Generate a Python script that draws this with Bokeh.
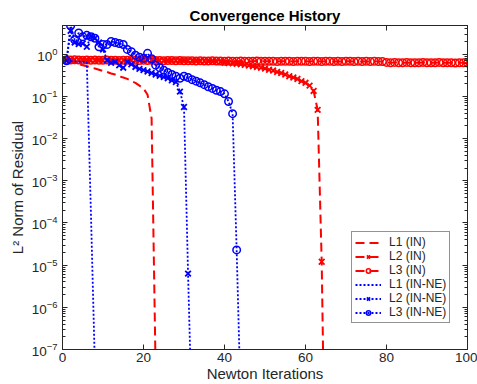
from bokeh.plotting import figure
from bokeh.models import (LinearAxis, LogAxis, FixedTicker, Range1d, Legend, LegendItem)
from bokeh.embed import file_html
from bokeh.resources import INLINE

# ---------------- data ----------------
it_L1_IN = list(range(1, 24))
res_L1_IN = [0.69, 0.65, 0.62, 0.58, 0.55, 0.52, 0.49, 0.46, 0.43, 0.40,
             0.38, 0.35, 0.33, 0.30, 0.28, 0.26, 0.23, 0.21, 0.18, 0.155,
             0.11, 0.03, 3e-8]

it_L2_IN = list(range(1, 66))
res_L2_IN = [0.74, 0.73, 0.74, 0.73, 0.73, 0.72, 0.73, 0.72, 0.73, 0.72,
             0.72, 0.73, 0.72, 0.72, 0.72, 0.73, 0.72, 0.72, 0.72, 0.72,
             0.72, 0.72, 0.72, 0.71, 0.72, 0.72, 0.71, 0.72, 0.72, 0.72,
             0.72, 0.71, 0.70, 0.69, 0.69, 0.68, 0.67, 0.66, 0.65, 0.63,
             0.62, 0.61, 0.59, 0.58, 0.56, 0.54, 0.52, 0.50, 0.48, 0.46,
             0.43, 0.41, 0.38, 0.36, 0.33, 0.30, 0.28, 0.26, 0.23, 0.21,
             0.18, 0.135, 0.048, 1.2e-5, 6e-12]

it_L3_IN = list(range(1, 101))
res_L3_IN = [0.74, 0.73, 0.74, 0.73, 0.72, 0.73, 0.72, 0.73, 0.72, 0.72,
             0.73, 0.72, 0.72, 0.71, 0.72, 0.72, 0.71, 0.72, 0.71, 0.72,
             0.71, 0.72, 0.71, 0.71, 0.70, 0.71, 0.71, 0.70, 0.71, 0.70,
             0.70, 0.70, 0.69, 0.70, 0.69, 0.69, 0.70, 0.69, 0.69, 0.68,
             0.69, 0.68, 0.68, 0.69, 0.68, 0.68, 0.68, 0.69, 0.68, 0.68,
             0.68, 0.68, 0.67, 0.68, 0.68, 0.68, 0.67, 0.68, 0.68, 0.68,
             0.67, 0.68, 0.68, 0.67, 0.68, 0.68, 0.67, 0.68, 0.67, 0.68,
             0.68, 0.67, 0.68, 0.67, 0.68, 0.67, 0.68, 0.67, 0.67, 0.64,
             0.63, 0.64, 0.63, 0.63, 0.64, 0.63, 0.63, 0.63, 0.64, 0.63,
             0.63, 0.63, 0.64, 0.63, 0.63, 0.63, 0.62, 0.63, 0.63, 0.62]

it_L1_NE = list(range(1, 9))
res_L1_NE = [0.70, 0.69, 0.68, 0.67, 0.66, 0.65, 2e-4, 4e-8]

it_L2_NE = list(range(1, 33))
res_L2_NE = [0.70, 3.6, 1.9, 1.74, 1.8, 1.5, 2.7, 2.4, 1.9, 1.3,
             0.72, 0.63, 0.66, 0.55, 0.48, 0.66, 0.58, 0.50, 0.45, 0.42,
             0.39, 0.36, 0.33, 0.31, 0.29, 0.27, 0.24, 0.22, 0.13, 0.056,
             6.3e-6, 1.6e-9]

it_L3_NE = list(range(1, 45))
res_L3_NE = [0.70, 4.7, 2.2, 3.2, 2.6, 2.8, 2.6, 2.4, 1.5, 1.7,
             1.7, 2.0, 1.9, 1.8, 1.7, 1.3, 1.15, 0.95, 0.85, 0.80,
             1.05, 0.78, 0.55, 0.48, 0.42, 0.37, 0.33, 0.30, 0.27, 0.30,
             0.28, 0.25, 0.23, 0.21, 0.19, 0.17, 0.155, 0.14, 0.13, 0.115,
             0.076, 0.039, 2.3e-5, 6e-9]

x_ticks = [0, 20, 40, 60, 80, 100]
y_ticks = [1e-7, 1e-6, 1e-5, 1e-4, 1e-3, 1e-2, 1e-1, 1e0]
y_minor = [m * t for t in y_ticks for m in range(2, 10)]

legend_labels = ["L1 (IN)", "L2 (IN)", "L3 (IN)", "L1 (IN-NE)", "L2 (IN-NE)", "L3 (IN-NE)"]

RED = "#ff0000"
BLUE = "#0000ff"
GRAY = "#262626"
FONT = "Liberation Sans"

# ---------------- figure ----------------
p = figure(width=477, height=384,
           x_range=Range1d(0, 100), y_range=Range1d(1e-7, 4.8),
           y_axis_type="log", output_backend="svg", toolbar_location=None,
           min_border_left=62, min_border_right=10, min_border_top=25,
           min_border_bottom=20)
p.background_fill_color = "white"
p.border_fill_color = "white"
p.outline_line_color = GRAY
p.xgrid.grid_line_color = None
p.ygrid.grid_line_color = None

p.title.text = "Convergence History"
p.title.align = "center"
p.title.text_font = FONT
p.title.text_font_style = "bold"
p.title.text_font_size = "15px"
p.title.text_color = "black"
p.title.standoff = 3

def style_axis(ax, labels=True):
    ax.axis_line_color = GRAY
    ax.major_tick_line_color = GRAY
    ax.minor_tick_line_color = GRAY
    ax.major_tick_in = 5
    ax.major_tick_out = 0
    ax.minor_tick_in = 3
    ax.minor_tick_out = 0
    ax.major_label_text_font = FONT
    ax.major_label_text_color = GRAY
    ax.axis_label_text_font = FONT
    ax.axis_label_text_color = GRAY
    ax.axis_label_text_font_style = "normal"
    if not labels:
        ax.major_label_text_font_size = "1px"
        ax.major_label_text_color = None
        ax.major_label_standoff = 0

xa = p.xaxis[0]
xa.ticker = FixedTicker(ticks=x_ticks)
style_axis(xa)
xa.minor_tick_line_color = None
xa.major_label_text_font_size = "13.5px"
xa.major_label_standoff = 3
xa.axis_label = "Newton Iterations"
xa.axis_label_text_font_size = "15px"
xa.axis_label_standoff = 0

ya = p.yaxis[0]
ya.ticker = FixedTicker(ticks=y_ticks, minor_ticks=y_minor)
style_axis(ya)
ya.major_label_text_font_size = "13.5px"
ya.major_label_standoff = 5
ya.axis_label = "L² Norm of Residual"
ya.axis_label_text_font_size = "15px"
ya.axis_label_standoff = 3

top = LinearAxis(ticker=FixedTicker(ticks=x_ticks))
style_axis(top, labels=False)
top.minor_tick_line_color = None
p.add_layout(top, "above")

right = LogAxis(ticker=FixedTicker(ticks=y_ticks, minor_ticks=y_minor))
style_axis(right, labels=False)
p.add_layout(right, "right")

# ---------------- series ----------------
DASH = "9 5"
DOT = "2 2"

r1l = p.line(it_L1_IN, res_L1_IN, line_color=RED, line_width=2, line_dash=DASH)

r2l = p.line(it_L2_IN, res_L2_IN, line_color=RED, line_width=2, line_dash=DASH)
r2m = p.scatter(it_L2_IN, res_L2_IN, marker="x", size=8, line_color=RED, line_width=1.8)

r3l = p.line(it_L3_IN, res_L3_IN, line_color=RED, line_width=2, line_dash=DASH)
r3m = p.scatter(it_L3_IN, res_L3_IN, marker="circle", size=7.5, line_color=RED,
                fill_color=None, line_width=1.5)

r4l = p.line(it_L1_NE, res_L1_NE, line_color=BLUE, line_width=1.8, line_dash=DOT)

r5l = p.line(it_L2_NE, res_L2_NE, line_color=BLUE, line_width=1.8, line_dash=DOT)
r5m = p.scatter(it_L2_NE, res_L2_NE, marker="x", size=8, line_color=BLUE, line_width=1.8)

r6l = p.line(it_L3_NE, res_L3_NE, line_color=BLUE, line_width=1.8, line_dash=DOT)
r6m = p.scatter(it_L3_NE, res_L3_NE, marker="circle", size=7.5, line_color=BLUE,
                fill_color=None, line_width=1.5)

items = [
    LegendItem(label=legend_labels[0], renderers=[r1l]),
    LegendItem(label=legend_labels[1], renderers=[r2l, r2m]),
    LegendItem(label=legend_labels[2], renderers=[r3l, r3m]),
    LegendItem(label=legend_labels[3], renderers=[r4l]),
    LegendItem(label=legend_labels[4], renderers=[r5l, r5m]),
    LegendItem(label=legend_labels[5], renderers=[r6l, r6m]),
]
legend = Legend(items=items, location=(289, 26),
                label_text_font=FONT, label_text_font_size="12px",
                label_text_color=GRAY,
                label_height=11, glyph_height=11, glyph_width=26,
                label_standoff=8, spacing=0, padding=3, margin=0,
                border_line_color=GRAY, border_line_width=1,
                background_fill_color="white", background_fill_alpha=1.0)
p.add_layout(legend)

open("out.html", "w").write(file_html(p, INLINE))
